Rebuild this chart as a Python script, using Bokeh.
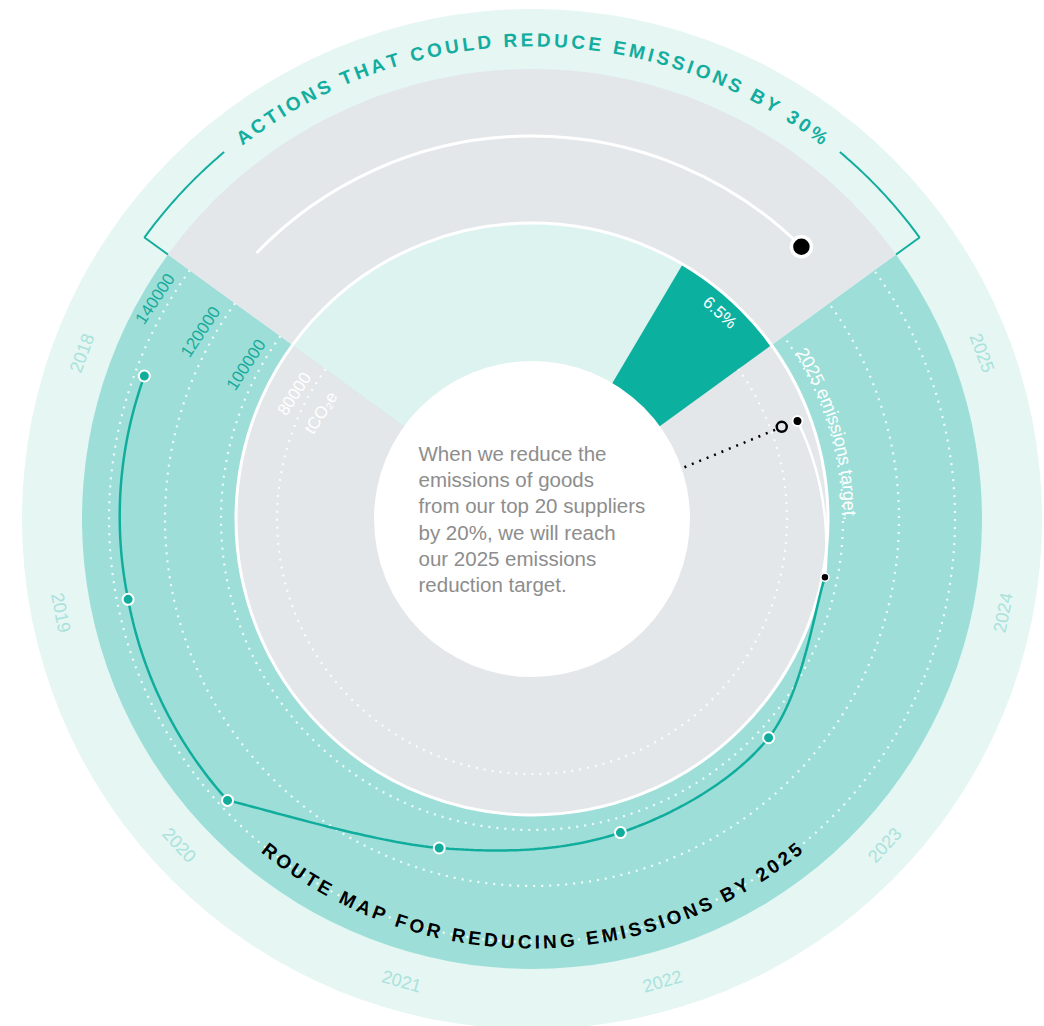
import math
from bokeh.plotting import figure
from bokeh.models import Range1d, ColumnDataSource
from bokeh.embed import file_html
from bokeh.resources import INLINE
from bokeh.core.properties import value

# ---------------- data ----------------
years = ["2018", "2019", "2020", "2021", "2022", "2023", "2024", "2025"]
emissions = [136500, 136000, 137000, 111000, 105300, 104000, 95600]   # tCO2e, 2018-2024
target_2025 = 90000
supplier_case_2025 = 84000
tick_values = [140000, 120000, 100000, 80000]
tick_labels = ["140000", "120000", "100000", "80000"]
unit_label = "tCO\u2082e"
actions_share = 30.0      # % of circle for "actions"
supplier_share = 6.5      # % share of top-20 supplier action
supplier_label = "6.5%"
top_title = "ACTIONS THAT COULD REDUCE EMISSIONS BY 30%"
bottom_title = "ROUTE MAP FOR REDUCING EMISSIONS BY 2025"
target_label = "2025 emissions target."
center_lines = ["When we reduce the", "emissions of goods", "from our top 20 suppliers",
                "by 20%, we will reach", "our 2025 emissions", "reduction target."]

# ---------------- style / layout ----------------
CX, CY = 531.5, 518.5
W, H = 1044, 1026
R_OUTER, R_BAND, R_INNER, R_HOLE = 510, 450, 296, 158

BG_OUT = "#e5f6f3"
TEAL_BAND = "#9ddfd8"
GRAY = "#e3e7ea"
MINT = "#ddf3ef"
DARK = "#0bb09f"
LINE = "#10ad9d"
YEAR_C = "#a9e2dc"
AXIS_TEAL = "#18aa9b"
TEXT_GRAY = "#8d8d8d"
TITLE_C = "#12ad9e"
FONT = "Liberation Sans"

A_START = 90 - actions_share * 3.6 / 2     # 36 deg
A_END = 90 + actions_share * 3.6 / 2       # 144 deg
ROUTE_SPAN = 360 - actions_share * 3.6
STEP = ROUTE_SPAN / len(years)
R = math.radians


def theta(i):
    return A_END + STEP * (i + 0.5)


def rad(v):
    return 255 + (v - 80000) * 168.0 / 60000.0


def pol(r, deg):
    t = math.radians(deg)
    return r * math.cos(t), r * math.sin(t)


BOLD_W = {" ": 278, "%": 889, "A": 722, "B": 722, "C": 722, "D": 722, "E": 667, "F": 611,
          "G": 778, "H": 722, "I": 278, "L": 611, "M": 833, "N": 722, "O": 778, "P": 667,
          "R": 722, "S": 667, "T": 611, "U": 722, "Y": 667}
for d in "0123456789":
    BOLD_W[d] = 556
REG_W = {" ": 278, ".": 278, "%": 889, "a": 556, "e": 556, "g": 556, "i": 222, "m": 833,
         "n": 556, "o": 556, "r": 333, "s": 500, "t": 278}
for d in "0123456789":
    REG_W[d] = 556


def curved(text, widths, size, tracking, r, center_deg, top=True):
    adv = [widths.get(c, 556) * size / 1000.0 for c in text]
    total = sum(adv) + tracking * (len(text) - 1)
    xs, ys, angs, chars = [], [], [], []
    pos = 0.0
    for c, a in zip(text, adv):
        sc = pos + a / 2
        off = (sc - total / 2) / r
        if top:
            th = math.radians(center_deg) - off
            ang = th - math.pi / 2
        else:
            th = math.radians(center_deg) + off
            ang = th + math.pi / 2
        if c != " ":
            xs.append(r * math.cos(th)); ys.append(r * math.sin(th))
            angs.append(ang); chars.append(c)
        pos += a + tracking
    return dict(x=xs, y=ys, a=angs, t=chars)


def tracking_for(text, widths, size, r, span_deg):
    adv = sum(widths.get(c, 556) * size / 1000.0 for c in text)
    return (math.radians(span_deg) * r - adv) / (len(text) - 1)


p = figure(width=W, height=H, output_backend="svg", toolbar_location=None,
           x_range=Range1d(-CX, W - CX), y_range=Range1d(CY - H, CY),
           min_border=0, background_fill_color="white", border_fill_color="white")
p.axis.visible = False
p.grid.visible = False
p.outline_line_color = None

# ---------------- rings and sectors ----------------
p.circle(x=[0], y=[0], radius=[R_OUTER], fill_color=BG_OUT, line_color=None)
p.wedge(x=0, y=0, radius=R_BAND, start_angle=R(A_END), end_angle=R(A_START),
        direction="anticlock", fill_color=TEAL_BAND, line_color=None)
p.wedge(x=0, y=0, radius=R_BAND, start_angle=R(A_START), end_angle=R(A_END),
        direction="anticlock", fill_color=GRAY, line_color=None)
p.wedge(x=0, y=0, radius=R_INNER, start_angle=R(A_END), end_angle=R(A_START),
        direction="anticlock", fill_color=GRAY, line_color=None)
A_SUP = A_START + supplier_share * 3.6
p.wedge(x=0, y=0, radius=R_INNER, start_angle=R(A_SUP), end_angle=R(A_END),
        direction="anticlock", fill_color=MINT, line_color=None)
p.wedge(x=0, y=0, radius=R_INNER, start_angle=R(A_START), end_angle=R(A_SUP),
        direction="anticlock", fill_color=DARK, line_color=None)
p.circle(x=[0], y=[0], radius=[R_INNER], fill_color=None, line_color="white", line_width=3)

# dotted reference circles
for v in tick_values:
    p.arc(x=0, y=0, radius=rad(v), start_angle=R(A_END), end_angle=R(A_START),
          direction="anticlock", line_color="white", line_alpha=0.85, line_width=2.2,
          line_dash="2 6")

p.circle(x=[0], y=[0], radius=[R_HOLE], fill_color="white", line_color=None)

# bracket around the actions sector
R_BR = 479
BR_LEN = 14
for a_edge, sgn in ((A_END, -1), (A_START, 1)):
    n = 30
    pts = [pol(R_BR, a_edge + sgn * BR_LEN * (1 - k / n)) for k in range(n + 1)]
    pts.append(pol(R_BAND, a_edge))
    p.line([q[0] for q in pts], [q[1] for q in pts], line_color=TITLE_C, line_width=2)

# white arc and black dot in the actions band
ARC_R = 383
arc_a0, arc_a1 = A_START + 9.3, A_END - 8
p.arc(x=0, y=0, radius=ARC_R, start_angle=R(arc_a0), end_angle=R(arc_a1),
      direction="anticlock", line_color="white", line_width=3)
bx, by = pol(ARC_R, arc_a0)
p.scatter(x=[bx], y=[by], size=20, marker="circle", fill_color="black", line_color="white",
          line_width=3.5)

# ---------------- route line ----------------
th = [theta(i) for i in range(len(emissions))]
rr = [rad(v) for v in emissions]

# 2018-2020: follow the radial scale (polar interpolation)
ax, ay = [], []
for i in range(2):
    for k in range(40):
        f = k / 40.0
        x, y = pol(rr[i] + (rr[i + 1] - rr[i]) * f, th[i] + (th[i + 1] - th[i]) * f)
        ax.append(x); ay.append(y)
x, y = pol(rr[2], th[2]); ax.append(x); ay.append(y)
p.line(ax, ay, line_color=LINE, line_width=2.5)

# 2020-2024: smooth cardinal curve
P = [pol(rr[i], th[i]) for i in range(2, len(emissions))]
n = len(P)
M = []
for i in range(n):
    if i == 0:
        M.append(((P[1][0] - P[0][0]) / 2, (P[1][1] - P[0][1]) / 2))
    elif i == n - 1:
        M.append(((P[i][0] - P[i - 1][0]) / 2, (P[i][1] - P[i - 1][1]) / 2))
    else:
        M.append(((P[i + 1][0] - P[i - 1][0]) / 2, (P[i + 1][1] - P[i - 1][1]) / 2))
bxs, bys = [], []
for i in range(n - 1):
    for k in range(40):
        t = k / 40.0
        h00 = 2 * t ** 3 - 3 * t ** 2 + 1
        h10 = t ** 3 - 2 * t ** 2 + t
        h01 = -2 * t ** 3 + 3 * t ** 2
        h11 = t ** 3 - t ** 2
        bxs.append(h00 * P[i][0] + h10 * M[i][0] + h01 * P[i + 1][0] + h11 * M[i + 1][0])
        bys.append(h00 * P[i][1] + h10 * M[i][1] + h01 * P[i + 1][1] + h11 * M[i + 1][1])
bxs.append(P[-1][0]); bys.append(P[-1][1])
p.line(bxs, bys, line_color=LINE, line_width=2.5)

# 2024 -> 2025 target (white)
t_th, t_r = theta(7), rad(target_2025)
cx_, cy_ = [], []
for k in range(41):
    f = k / 40.0
    x, y = pol(rr[6] + (t_r - rr[6]) * f, th[6] + (t_th - th[6]) * f)
    cx_.append(x); cy_.append(y)
p.line(cx_, cy_, line_color="white", line_width=2.5)

# dotted connector from the centre text to the supplier case
s_r = rad(supplier_case_2025)
d0 = pol(R_HOLE + 3, t_th - 1.5)
d1 = pol(s_r - 6, t_th - 0.1)
p.line([d0[0], d1[0]], [d0[1], d1[1]], line_color="black", line_width=2.5, line_dash="2 6")

pts = [pol(rr[i], th[i]) for i in range(6)]
p.scatter(x=[q[0] for q in pts], y=[q[1] for q in pts], size=11, marker="circle",
          fill_color=LINE, line_color="white", line_width=2)
q24 = pol(rr[6], th[6])
p.scatter(x=[q24[0]], y=[q24[1]], size=8, marker="circle", fill_color="black",
          line_color="white", line_width=1.5)
qt = pol(t_r, t_th)
p.scatter(x=[qt[0]], y=[qt[1]], size=10, marker="circle", fill_color="black",
          line_color="white", line_width=2)
qs = pol(s_r, t_th)
p.scatter(x=[qs[0]], y=[qs[1]], size=10, marker="circle", fill_color=None,
          line_color="black", line_width=2.5)

# ---------------- texts ----------------
def add_text(src, color, size, style="normal", align="center", baseline="middle"):
    p.text(x="x", y="y", text="t", angle="a", source=ColumnDataSource(src),
           text_font=value(FONT), text_font_size=value(size), text_font_style=style,
           text_color=color, text_align=align, text_baseline=baseline)

# year labels
yx, yy, ya = [], [], []
for i, yr in enumerate(years):
    a = theta(i) % 360
    x, y = pol(480, a)
    yx.append(x); yy.append(y)
    ya.append(math.radians(a - 90 if 0 < a < 180 else a + 90))
add_text(dict(x=yx, y=yy, a=ya, t=years), YEAR_C, "18px")

# curved titles
tr = tracking_for(top_title, BOLD_W, 19, 479, 75.6)
add_text(curved(top_title, BOLD_W, 19, tr, 479, 90, top=True), TITLE_C, "19px", "bold")
tr = tracking_for(bottom_title, BOLD_W, 19, 423, 78.4)
add_text(curved(bottom_title, BOLD_W, 19, tr, 423, 270, top=False), "black", "19px", "bold")

# target label along the ring
adv = sum(REG_W.get(c, 556) * 18 / 1000.0 for c in target_label)
R_TL = 318
start = A_START - 3.7
cen = start - math.degrees(adv / 2 / R_TL)
add_text(curved(target_label, REG_W, 18, 0, R_TL, cen, top=True), "white", "18px")

# axis labels
lx, ly, la, lt, lc = [], [], [], [], []
for v, lab in zip(tick_values, tick_labels):
    r = rad(v) + 13
    a = A_END + math.degrees(15 / r)
    x, y = pol(r, a)
    lx.append(x); ly.append(y); la.append(math.radians(a - 90)); lt.append(lab)
    lc.append(AXIS_TEAL if r > R_INNER else "white")
r = rad(tick_values[-1]) - 20
a = A_END + math.degrees(15 / r)
x, y = pol(r, a)
lx.append(x); ly.append(y); la.append(math.radians(a - 90)); lt.append(unit_label); lc.append("white")
p.text(x="x", y="y", text="t", angle="a", text_color="c",
       source=ColumnDataSource(dict(x=lx, y=ly, a=la, t=lt, c=lc)),
       text_font=value(FONT), text_font_size=value("17px"), text_align="right",
       text_baseline="middle")

# supplier share label
sa = (A_START + A_SUP) / 2
sx, sy = pol(279, sa)
add_text(dict(x=[sx], y=[sy], a=[math.radians(sa - 90)], t=[supplier_label]), "white", "17px")

# centre text
cy0 = CY - 452.5
add_text(dict(x=[418 - CX] * len(center_lines),
              y=[cy0 - 26.35 * k for k in range(len(center_lines))],
              a=[0] * len(center_lines), t=center_lines),
         TEXT_GRAY, "20.5px", align="left")

open("out.html", "w").write(file_html(p, INLINE))
